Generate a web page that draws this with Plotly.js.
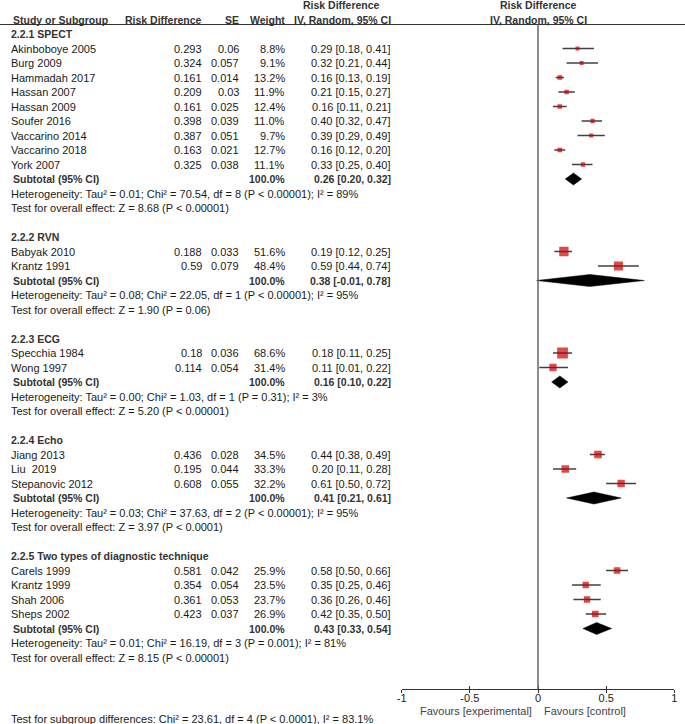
<!DOCTYPE html>
<html>
<head>
<meta charset="utf-8">
<script src="https://cdn.plot.ly/plotly-3.0.1.min.js"></script>
<style>html,body{margin:0;padding:0;background:#fff;}#chart{width:685px;height:724px;}</style>
</head>
<body>
<div id="chart"></div>
<script>
// ---------- DATA ----------
const groupNames = ["2.2.1 SPECT", "2.2.2 RVN", "2.2.3 ECG", "2.2.4 Echo", "2.2.5 Two types of diagnostic technique"];
const studyNames = ["Akinboboye 2005", "Burg 2009", "Hammadah 2017", "Hassan 2007", "Hassan 2009", "Soufer 2016", "Vaccarino 2014", "Vaccarino 2018", "York 2007",
  "Babyak 2010", "Krantz 1991",
  "Specchia 1984", "Wong 1997",
  "Jiang 2013", "Liu  2019", "Stepanovic 2012",
  "Carels 1999", "Krantz 1999", "Shah 2006", "Sheps 2002"];
const studyGroup = [0,0,0,0,0,0,0,0,0, 1,1, 2,2, 3,3,3, 4,4,4,4];
const riskDiff = ["0.293","0.324","0.161","0.209","0.161","0.398","0.387","0.163","0.325",
  "0.188","0.59", "0.18","0.114", "0.436","0.195","0.608", "0.581","0.354","0.361","0.423"];
const seVals = ["0.06","0.057","0.014","0.03","0.025","0.039","0.051","0.021","0.038",
  "0.033","0.079", "0.036","0.054", "0.028","0.044","0.055", "0.042","0.054","0.053","0.037"];
const weights = [8.8, 9.1, 13.2, 11.9, 12.4, 11.0, 9.7, 12.7, 11.1,
  51.6, 48.4, 68.6, 31.4, 34.5, 33.3, 32.2, 25.9, 23.5, 23.7, 26.9];
const ciEst = [0.29, 0.32, 0.16, 0.21, 0.16, 0.40, 0.39, 0.16, 0.33,
  0.19, 0.59, 0.18, 0.11, 0.44, 0.20, 0.61, 0.58, 0.35, 0.36, 0.42];
const ciLo = [0.18, 0.21, 0.13, 0.15, 0.11, 0.32, 0.29, 0.12, 0.25,
  0.12, 0.44, 0.11, 0.01, 0.38, 0.11, 0.50, 0.50, 0.25, 0.26, 0.35];
const ciHi = [0.41, 0.44, 0.19, 0.27, 0.21, 0.47, 0.49, 0.20, 0.40,
  0.25, 0.74, 0.25, 0.22, 0.49, 0.28, 0.72, 0.66, 0.46, 0.46, 0.50];
const subEst = [0.26, 0.38, 0.16, 0.41, 0.43];
const subLo = [0.20, -0.01, 0.10, 0.21, 0.33];
const subHi = [0.32, 0.78, 0.22, 0.61, 0.54];
const hetText = [
  "Heterogeneity: Tau² = 0.01; Chi² = 70.54, df = 8 (P < 0.00001); I² = 89%",
  "Heterogeneity: Tau² = 0.08; Chi² = 22.05, df = 1 (P < 0.00001); I² = 95%",
  "Heterogeneity: Tau² = 0.00; Chi² = 1.03, df = 1 (P = 0.31); I² = 3%",
  "Heterogeneity: Tau² = 0.03; Chi² = 37.63, df = 2 (P < 0.00001); I² = 95%",
  "Heterogeneity: Tau² = 0.01; Chi² = 16.19, df = 3 (P = 0.001); I² = 81%"];
const effectText = [
  "Test for overall effect: Z = 8.68 (P < 0.00001)",
  "Test for overall effect: Z = 1.90 (P = 0.06)",
  "Test for overall effect: Z = 5.20 (P < 0.00001)",
  "Test for overall effect: Z = 3.97 (P < 0.0001)",
  "Test for overall effect: Z = 8.15 (P < 0.00001)"];
const subgroupDiffText = "Test for subgroup differences: Chi² = 23.61, df = 4 (P < 0.0001), I² = 83.1%";
const tickVals = [-1, -0.5, 0, 0.5, 1];
const tickText = ["-1", "-0.5", "0", "0.5", "1"];
const favourLeft = "Favours [experimental]";
const favourRight = "Favours [control]";

// ---------- LAYOUT HELPERS ----------
const W = 685, H = 724;
const FONT = "Liberation Sans, Arial, sans-serif";
const TXT = "#1a1a1a";
const rowY = i => 34 + 14.5 * i;
const px = v => v / W;
const fmt = v => v.toFixed(2);
const ann = [];
function txt(text, xPix, y, anchor, opts) {
  opts = opts || {};
  ann.push({
    text: opts.bold ? "<b>" + text + "</b>" : text,
    x: px(xPix), xref: "paper", y: y, yref: "y",
    xanchor: anchor, yanchor: "middle", showarrow: false, borderpad: 0,
    font: {family: FONT, size: opts.size || 11, color: opts.color || TXT}
  });
}
const COL_NAME = 10, COL_RD = 203, COL_SE = 240, COL_W = 286, COL_CI = 392, COL_CI_C = 341, PLOT_C = 538.3;

// headers
txt("Risk Difference", COL_CI_C, 5, "center", {bold: true, size: 10.5, color: "#333"});
txt("Risk Difference", PLOT_C, 5, "center", {bold: true, size: 10.5, color: "#333"});
txt("Study or Subgroup", 12, 19.5, "left", {bold: true, size: 10.5, color: "#333"});
txt("Risk Difference", COL_RD, 19.5, "right", {bold: true, size: 10.5, color: "#333"});
txt("SE", COL_SE, 19.5, "right", {bold: true, size: 10.5, color: "#333"});
txt("Weight", COL_W, 19.5, "right", {bold: true, size: 10.5, color: "#333"});
txt("IV, Random, 95% CI", COL_CI, 19.5, "right", {bold: true, size: 10.5, color: "#333"});
txt("IV, Random, 95% CI", PLOT_C, 19.5, "center", {bold: true, size: 10.5, color: "#333"});

// rows
const ciX = [], ciY = [], mX = [], mY = [], mS = [];
const dX = [], dY = [];
let r = 0;
for (let g = 0; g < groupNames.length; g++) {
  txt(groupNames[g], COL_NAME, rowY(r), "left", {bold: true, size: 10.5, color: "#333"});
  r++;
  for (let s = 0; s < studyNames.length; s++) {
    if (studyGroup[s] !== g) continue;
    const y = rowY(r);
    txt(studyNames[s], COL_NAME, y, "left");
    txt(riskDiff[s], COL_RD, y, "right");
    txt(seVals[s], COL_SE, y, "right");
    txt(weights[s].toFixed(1) + "%", COL_W, y, "right");
    txt(fmt(ciEst[s]) + " [" + fmt(ciLo[s]) + ", " + fmt(ciHi[s]) + "]", COL_CI, y, "right");
    ciX.push(ciLo[s], ciHi[s], null); ciY.push(y, y, null);
    mX.push(ciEst[s]); mY.push(y); mS.push(1.3 * Math.sqrt(weights[s]));
    r++;
  }
  const ys = rowY(r);
  txt("Subtotal (95% CI)", 12, ys, "left", {bold: true, size: 10.5, color: "#333"});
  txt("100.0%", COL_W, ys, "right", {bold: true, size: 10.5, color: "#333"});
  txt(fmt(subEst[g]) + " [" + fmt(subLo[g]) + ", " + fmt(subHi[g]) + "]", COL_CI, ys, "right", {bold: true, size: 10.5, color: "#333"});
  dX.push(subLo[g], subEst[g], subHi[g], subEst[g], subLo[g], null);
  dY.push(ys, ys - 6, ys, ys + 6, ys, null);
  r++;
  txt(hetText[g], COL_NAME, rowY(r), "left"); r++;
  txt(effectText[g], COL_NAME, rowY(r), "left"); r++;
  r++;
}
txt(subgroupDiffText, COL_NAME, 719, "left");
txt(favourLeft, 533, 711, "right", {color: "#444"});
txt(favourRight, 543, 711, "left", {color: "#444"});

const AXIS_Y = 689;
const traces = [
  {x: ciX, y: ciY, mode: "lines", line: {color: "#404040", width: 1.5}, hoverinfo: "skip", xaxis: "x", yaxis: "y"},
  {x: mX, y: mY, mode: "markers", marker: {symbol: "square", color: "#c80000", size: mS, line: {width: 0}}, hoverinfo: "skip", xaxis: "x", yaxis: "y"},
  {x: dX, y: dY, mode: "lines", fill: "toself", fillcolor: "#000", line: {color: "#000", width: 0.5}, hoverinfo: "skip", xaxis: "x", yaxis: "y"},
  {x: [0], y: [AXIS_Y], mode: "markers", marker: {opacity: 0}, hoverinfo: "skip", xaxis: "x2", yaxis: "y"}
];
const dom = [401.7 / W, 674.3 / W];
const axisCommon = {
  domain: dom, range: [-1, 1], anchor: "free", position: 1 - AXIS_Y / H,
  showgrid: false, zeroline: false, showline: true, linecolor: "#333", linewidth: 1,
  tickvals: tickVals, ticktext: tickText, tickcolor: "#333", ticklen: 3, tickwidth: 1,
  fixedrange: true
};
const layout = {
  width: W, height: H, margin: {l: 0, r: 0, t: 0, b: 0},
  paper_bgcolor: "#fff", plot_bgcolor: "rgba(0,0,0,0)", showlegend: false,
  xaxis: Object.assign({}, axisCommon, {ticks: "inside", ticklabelstandoff: -1, tickfont: {family: FONT, size: 11, color: TXT}}),
  xaxis2: Object.assign({}, axisCommon, {ticks: "outside", overlaying: "x", showticklabels: false}),
  yaxis: {domain: [0, 1], range: [H, 0], visible: false, fixedrange: true},
  annotations: ann,
  shapes: [
    {type: "line", xref: "paper", yref: "y", x0: 0, x1: 1, y0: 24.5, y1: 24.5, line: {color: "#333", width: 1}},
    {type: "line", xref: "x", yref: "y", x0: 0, x1: 0, y0: 24.5, y1: AXIS_Y, line: {color: "#666", width: 1.5}}
  ]
};
Plotly.newPlot("chart", traces, layout, {staticPlot: true, displayModeBar: false});
</script>
</body>
</html>
